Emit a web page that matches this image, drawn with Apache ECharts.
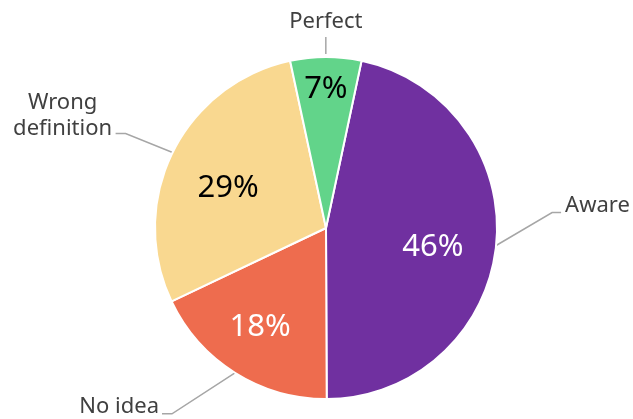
<!DOCTYPE html>
<html>
<head>
<meta charset="utf-8">
<script src="https://cdn.jsdelivr.net/npm/echarts@6/dist/echarts.min.js"></script>
<style>
  html, body { margin: 0; padding: 0; background: #fff; }
  #chart { width: 633px; height: 419px; }
</style>
</head>
<body>
<div id="chart"></div>
<script>
// answers to the question, clockwise from the top
var categories = ['Aware', 'No idea', 'Wrong definition', 'Perfect'];
var shares = [46.6, 18.0, 28.7, 6.7];
// percentages as printed on the slices
var printedPct = [46, 18, 29, 7];

var sliceColors = ['#7030a0', '#ee6c4e', '#f9d890', '#62d48a'];
var pctColors = ['#ffffff', '#ffffff', '#000000', '#000000'];

// leader line shape per category: elbow offset from the rim, then tail length
var leaderElbow = [[56, -33], [-63, 41], [-47, -19], [0, -17]];
var leaderTail = [9, -10, -10, 0];
// nudges for the percentage labels
var pctShift = [[-5, 8], [-6, 4], [3, 10], [0, -26]];

var font = 'Noto Sans';

var pieData = categories.map(function (name, i) {
  return {
    name: name,
    value: shares[i],
    itemStyle: { color: sliceColors[i] }
  };
});

var pctData = categories.map(function (name, i) {
  return {
    name: name,
    value: shares[i],
    label: { color: pctColors[i] }
  };
});

function nameLayout(p) {
  var i = p.dataIndex;
  var a = p.labelLinePoints[0];
  var b = [a[0] + leaderElbow[i][0], a[1] + leaderElbow[i][1] - (i === 3 ? 3 : 0)];
  var c = [b[0] + leaderTail[i], b[1]];
  if (i === 3) {
    a = [a[0], a[1] - 3];
  }
  var out = { labelLinePoints: [a, b, c], verticalAlign: 'middle' };
  if (i === 0) {
    out.x = c[0] + 4; out.y = c[1] - 7; out.align = 'left';
  } else if (i === 1) {
    out.x = c[0] - 3; out.y = c[1] - 7; out.align = 'right';
  } else if (i === 2) {
    out.x = c[0] - 53; out.y = c[1] - 18; out.align = 'center';
  } else {
    out.x = c[0]; out.y = c[1] - 15; out.align = 'center';
  }
  return out;
}

var chart = echarts.init(document.getElementById('chart'));
chart.setOption({
  animation: false,
  series: [
    {
      type: 'pie',
      center: [326, 228],
      radius: [0, 171],
      startAngle: 78,
      clockwise: true,
      itemStyle: { borderColor: '#fff', borderWidth: 2 },
      label: {
        show: true,
        position: 'outside',
        color: '#404040',
        fontFamily: font,
        fontSize: 22,
        lineHeight: 26,
        align: 'center',
        formatter: function (p) {
          return p.name === 'Wrong definition' ? 'Wrong\ndefinition' : p.name;
        }
      },
      labelLine: {
        show: true,
        length: 20,
        length2: 10,
        lineStyle: { color: '#a6a6a6', width: 1.5 }
      },
      labelLayout: nameLayout,
      data: pieData
    },
    {
      // percentages drawn on a transparent copy so they sit nearer the rim
      type: 'pie',
      silent: true,
      center: [326, 228],
      radius: [0, 219],
      startAngle: 78,
      clockwise: true,
      itemStyle: { color: 'transparent' },
      label: {
        show: true,
        position: 'inside',
        fontFamily: font,
        fontSize: 31,
        formatter: function (p) {
          return printedPct[p.dataIndex] + '%';
        }
      },
      labelLine: { show: false },
      labelLayout: function (p) {
        return { dx: pctShift[p.dataIndex][0], dy: pctShift[p.dataIndex][1] };
      },
      data: pctData
    }
  ]
});
</script>
</body>
</html>
